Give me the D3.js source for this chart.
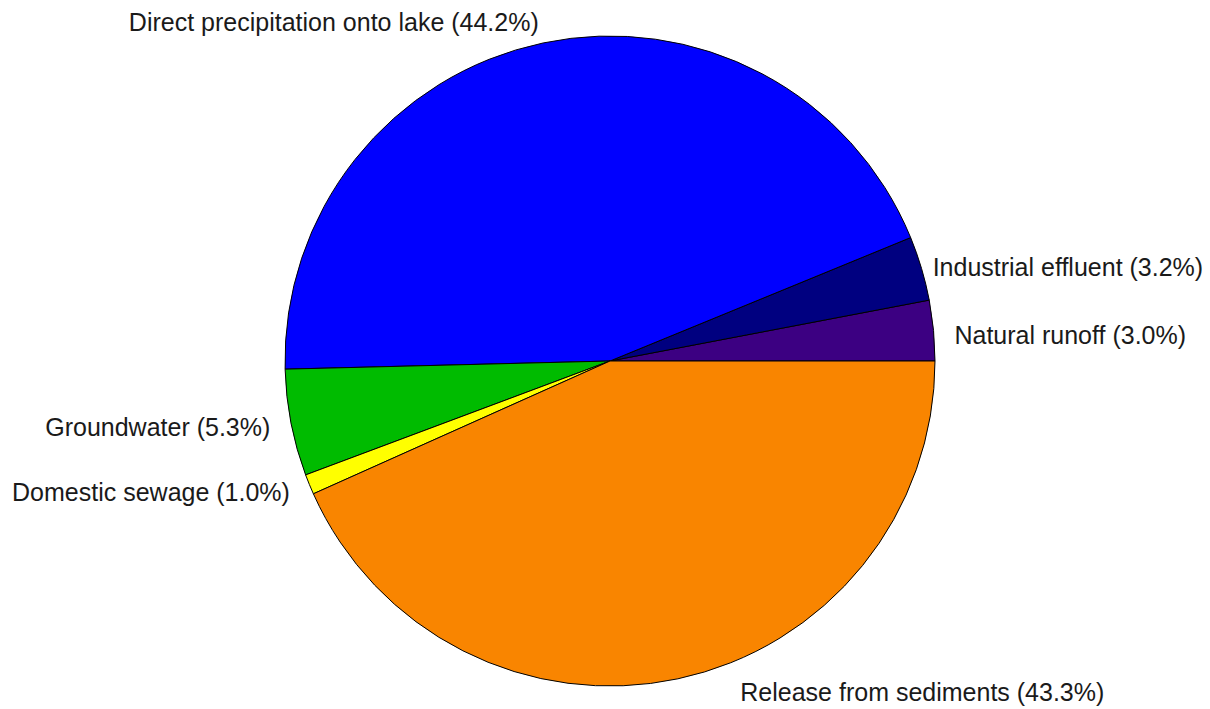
<!DOCTYPE html>
<html>
<head>
<meta charset="utf-8">
<script src="https://cdn.jsdelivr.net/npm/d3@7"></script>
<style>
  html, body { margin: 0; padding: 0; background: #ffffff; }
  svg { display: block; }
  text { font-family: "Liberation Sans", Arial, sans-serif; fill: #1a1a1a; }
</style>
</head>
<body>
<svg id="chart" width="1210" height="709"></svg>
<script>
// Phosphorus sources to the lake, percent of total load
const categories = [
  "Natural runoff",
  "Industrial effluent",
  "Direct precipitation onto lake",
  "Groundwater",
  "Domestic sewage",
  "Release from sediments"
];
const values = [3.0, 3.2, 44.2, 5.3, 1.0, 43.3];
const colors = ["#3c0082", "#000080", "#0000ff", "#00bb00", "#ffff00", "#f98500"];

// Extra shift (px) for labels that sit away from their default spot
const labelShift = {
  "Release from sediments": [58, -7],
  "Industrial effluent": [-9, 5],
  "Natural runoff": [0, 7]
};

const width = 1210, height = 709;
const cx = 610, cy = 361, radius = 325;
const labelRadius = 346;

const svg = d3.select("#chart");
const g = svg.append("g").attr("transform", `translate(${cx},${cy})`);

const data = categories.map((c, i) => ({ name: c, value: values[i], color: colors[i] }));

// Slices run counter-clockwise starting at 3 o'clock.
// d3.pie measures angles clockwise from 12 o'clock, so start at PI/2 and go negative.
const pie = d3.pie()
  .value(d => d.value)
  .sort(null)
  .startAngle(Math.PI / 2)
  .endAngle(Math.PI / 2 - 2 * Math.PI);

const arcs = pie(data);
const arc = d3.arc().innerRadius(0).outerRadius(radius);

g.selectAll("path.slice")
  .data(arcs)
  .join("path")
  .attr("class", "slice")
  .attr("d", arc)
  .attr("fill", d => d.data.color)
  .attr("stroke", "#000")
  .attr("stroke-width", 1)
  .attr("stroke-linejoin", "round");

// Labels placed just outside the rim at each slice's mid-angle
g.selectAll("text.label")
  .data(arcs)
  .join("text")
  .attr("class", "label")
  .each(function (d) {
    const mid = (d.startAngle + d.endAngle) / 2;
    const [sx, sy] = labelShift[d.data.name] || [0, 0];
    const x = labelRadius * Math.sin(mid) + sx;
    const y = -labelRadius * Math.cos(mid) + sy;
    d3.select(this)
      .attr("x", x)
      .attr("y", y)
      .attr("dy", "0.35em")
      .attr("text-anchor", Math.sin(mid) >= 0 ? "start" : "end");
  })
  .attr("font-size", 25)
  .text(d => `${d.data.name} (${d3.format(".1f")(d.data.value)}%)`);
</script>
</body>
</html>
